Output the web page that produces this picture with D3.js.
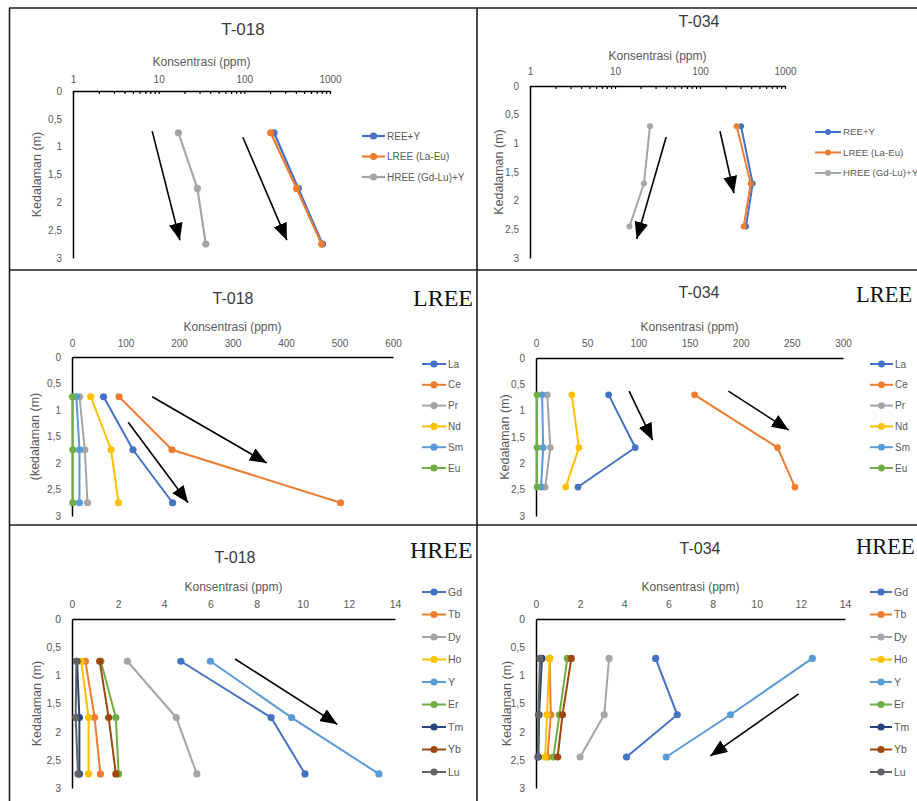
<!DOCTYPE html>
<html>
<head>
<meta charset="utf-8">
<script src="https://cdn.jsdelivr.net/npm/d3@7"></script>
<style>
  body { margin: 0; background: #fff; }
  svg { display: block; font-family: "Liberation Sans", Arial, sans-serif; }
</style>
</head>
<body>
<div id="vis-holder"></div>
<script>
// ---- Data ------------------------------------------------------------

// Sample depths (m)
const depth018 = [0.75, 1.75, 2.75];
const depth034 = [0.7, 1.7, 2.45];

// Tick labels
const depthTicks = [0, 0.5, 1, 1.5, 2, 2.5, 3];
const logTickLabels = [1, 10, 100, 1000];
const lreeTicks018 = [0, 100, 200, 300, 400, 500, 600];
const lreeTicks034 = [0, 50, 100, 150, 200, 250, 300];
const hreeTicks = [0, 2, 4, 6, 8, 10, 12, 14];

// Total groups (ppm)
const sumNames = ["REE+Y", "LREE (La-Eu)", "HREE (Gd-Lu)+Y"];
const ree018  = [222, 426, 819];
const lree018 = [203, 408, 798];
const hree018 = [17, 28.3, 35.5];
const ree034  = [304, 417, 348];
const lree034 = [270, 395, 327];
const hree034 = [25.8, 21.9, 14.8];

// Light REE (ppm)
const lreeNames = ["La", "Ce", "Pr", "Nd", "Sm", "Eu"];
const La018 = [59, 114, 188];
const Ce018 = [88, 187, 502];
const Pr018 = [14, 24, 29];
const Nd018 = [35, 73, 87];
const Sm018 = [8, 14, 14];
const Eu018 = [1, 1.5, 1.5];
const La034 = [71, 97, 41];
const Ce034 = [155, 236, 253];
const Pr034 = [11, 14, 9];
const Nd034 = [35, 42, 29];
const Sm034 = [6, 7, 5];
const Eu034 = [1, 1, 1];

// Heavy REE + Y (ppm)
const hreeNames = ["Gd", "Tb", "Dy", "Ho", "Y", "Er", "Tm", "Yb", "Lu"];
const Gd018 = [4.72, 8.63, 10.1];
const Tb018 = [0.58, 0.98, 1.23];
const Dy018 = [2.4, 4.52, 5.41];
const Ho018 = [0.4, 0.72, 0.72];
const Y018  = [6.0, 9.52, 13.3];
const Er018 = [1.25, 1.9, 2.02];
const Tm018 = [0.22, 0.32, 0.32];
const Yb018 = [1.2, 1.59, 1.9];
const Lu018 = [0.19, 0.16, 0.26];
const Gd034 = [5.42, 6.4, 4.1];
const Tb034 = [0.62, 0.67, 0.52];
const Dy034 = [3.31, 3.09, 2.0];
const Ho034 = [0.61, 0.5, 0.41];
const Y034  = [12.52, 8.81, 5.9];
const Er034 = [1.42, 1.06, 0.79];
const Tm034 = [0.27, 0.14, 0.11];
const Yb034 = [1.6, 1.2, 0.98];
const Lu034 = [0.18, 0.11, 0.08];

// Trend arrows, in data units: [ppm start, depth start, ppm tip, depth tip]
const arrowsSum018  = [[8.4, 0.72, 17.7, 2.68], [96, 0.83, 314, 2.68]];
const arrowsSum034  = [[40, 0.89, 18, 2.67], [172, 0.79, 251, 1.87]];
const arrowsLree018 = [[150, 0.75, 364, 2.0], [105, 1.23, 217, 2.75]];
const arrowsLree034 = [[91, 0.63, 114, 1.56], [188, 0.63, 247, 1.37]];
const arrowsHree018 = [[7.07, 0.71, 11.5, 1.87]];
const arrowsHree034 = [[11.9, 1.33, 7.9, 2.43]];

// Excel default palette
const colors = ["#4472C4", "#ED7D31", "#A5A5A5", "#FFC000", "#5B9BD5",
                "#70AD47", "#264478", "#9E480E", "#636363"];

// ---- Canvas ----------------------------------------------------------
const width = 917, height = 801;
const svg = d3.select("#vis-holder")
              .append("svg")
              .attr("width", width)
              .attr("height", height);

svg.append("rect").attr("width", width).attr("height", height).attr("fill", "#fff");

// Arrow head
svg.append("defs").append("marker")
   .attr("id", "head")
   .attr("viewBox", "0 0 17 14")
   .attr("refX", 17).attr("refY", 7)
   .attr("markerWidth", 17).attr("markerHeight", 14)
   .attr("markerUnits", "userSpaceOnUse")
   .attr("orient", "auto")
   .append("path")
   .attr("d", "M0,0 L17,7 L0,14 Z")
   .attr("fill", "#000");

// Frame lines between the six pictures
const frame = svg.append("g").attr("stroke", "#1e1e1e").attr("stroke-width", 1.6);
frame.append("line").attr("x1", 9).attr("x2", width).attr("y1", 8).attr("y2", 8);
frame.append("line").attr("x1", 9.5).attr("x2", 9.5).attr("y1", 8).attr("y2", height);
frame.append("line").attr("x1", 477).attr("x2", 477).attr("y1", 8).attr("y2", height);
frame.append("line").attr("x1", 9).attr("x2", width).attr("y1", 270).attr("y2", 270);
frame.append("line").attr("x1", 9).attr("x2", width).attr("y1", 525).attr("y2", 525);

// Build series table from named arrays
function makeSeries(names, arrays) {
  return names.map((n, i) => ({ name: n, values: arrays[i], color: colors[i] }));
}

const panels = [
  { title: "T-018", log: true, depth: depth018,
    series: makeSeries(sumNames, [ree018, lree018, hree018]),
    arrows: arrowsSum018,
    x0: 73, x1: 330, y0: 91, y1: 258,
    titleX: 243, titleY: 29, titleSize: 17,
    axisTitleY: 62, tickPad: 8.5, tickSize: 10,
    yLabel: "Kedalaman (m)", yLabelX: 37,
    legX: 362, legW: 23, legY: 136, legStep: 20.5, legSize: 10, r: 3.6, lw: 2.2 },
  { title: "T-034", log: true, depth: depth034,
    series: makeSeries(sumNames, [ree034, lree034, hree034]),
    arrows: arrowsSum034,
    x0: 530, x1: 785, y0: 86, y1: 258,
    titleX: 699, titleY: 21, titleSize: 16,
    axisTitleY: 56, tickPad: 11, tickSize: 10,
    yLabel: "Kedalaman (m)", yLabelX: 499,
    legX: 815, legW: 26, legY: 132, legStep: 20.5, legSize: 9.7, r: 3, lw: 2 },
  { title: "T-018", log: false, depth: depth018, ticks: lreeTicks018, tag: "LREE",
    series: makeSeries(lreeNames, [La018, Ce018, Pr018, Nd018, Sm018, Eu018]),
    arrows: arrowsLree018,
    x0: 72, x1: 393, y0: 357, y1: 516,
    titleX: 233, titleY: 298, titleSize: 16, tagX: 413, tagY: 306, tagSize: 24,
    axisTitleY: 327, tickPad: 10.5, tickSize: 10,
    yLabel: "(kedalaman (m)", yLabelX: 35,
    legX: 422, legW: 24, legY: 364, legStep: 20.8, legSize: 10, r: 3.6, lw: 2 },
  { title: "T-034", log: false, depth: depth034, ticks: lreeTicks034, tag: "LREE",
    series: makeSeries(lreeNames, [La034, Ce034, Pr034, Nd034, Sm034, Eu034]),
    arrows: arrowsLree034,
    x0: 536, x1: 843, y0: 358, y1: 516,
    titleX: 699, titleY: 292, titleSize: 16, tagX: 856, tagY: 302, tagSize: 22.5,
    axisTitleY: 327, tickPad: 11.5, tickSize: 10,
    yLabel: "Kedalaman (m)", yLabelX: 505,
    legX: 870, legW: 23, legY: 364, legStep: 20.8, legSize: 10, r: 3.4, lw: 2 },
  { title: "T-018", log: false, depth: depth018, ticks: hreeTicks, tag: "HREE",
    series: makeSeries(hreeNames, [Gd018, Tb018, Dy018, Ho018, Y018, Er018, Tm018, Yb018, Lu018]),
    arrows: arrowsHree018,
    x0: 72, x1: 395, y0: 619, y1: 788,
    titleX: 235, titleY: 557, titleSize: 16, tagX: 410, tagY: 558, tagSize: 24,
    axisTitleY: 587, tickPad: 11.5, tickSize: 10.5,
    yLabel: "Kedalaman (m)", yLabelX: 37,
    legX: 422, legW: 24, legY: 592, legStep: 22.5, legSize: 10.5, r: 3.6, lw: 2 },
  { title: "T-034", log: false, depth: depth034, ticks: hreeTicks, tag: "HREE",
    series: makeSeries(hreeNames, [Gd034, Tb034, Dy034, Ho034, Y034, Er034, Tm034, Yb034, Lu034]),
    arrows: arrowsHree034,
    x0: 536, x1: 845, y0: 619, y1: 788,
    titleX: 700, titleY: 548, titleSize: 16, tagX: 856, tagY: 554, tagSize: 22.5,
    axisTitleY: 587, tickPad: 11.5, tickSize: 10.5,
    yLabel: "Kedalaman (m)", yLabelX: 507,
    legX: 870, legW: 22, legY: 592, legStep: 22.5, legSize: 10.5, r: 3.6, lw: 2 }
];

const textColor = "#595959";
const commaFmt = (d) => String(d).replace(".", ",");

function drawPanel(p) {
  const g = svg.append("g");

  // Scales
  const x = (p.log ? d3.scaleLog().domain([1, 1000]) : d3.scaleLinear().domain(d3.extent(p.ticks)))
              .range([p.x0, p.x1]);
  const y = d3.scaleLinear().domain([0, 3]).range([p.y0, p.y1]);

  // Chart title
  g.append("text")
   .attr("x", p.titleX).attr("y", p.titleY).attr("dy", "0.35em")
   .attr("text-anchor", "middle")
   .attr("font-size", p.titleSize)
   .attr("fill", "#3b3b3b")
   .text(p.title);

  // Big tag (LREE / HREE)
  if (p.tag) {
    g.append("text")
     .attr("x", p.tagX).attr("y", p.tagY)
     .attr("font-family", "'Liberation Serif', 'DejaVu Serif', serif")
     .attr("font-size", p.tagSize)
     .attr("fill", "#111")
     .text(p.tag);
  }

  // x axis along depth 0
  let xAxis = d3.axisTop(x).tickSizeOuter(0).tickPadding(p.tickPad);
  if (p.log) {
    xAxis.tickValues(x.ticks()).tickSizeInner(-3)
         .tickFormat((d) => logTickLabels.includes(d) ? d : "");
  } else {
    xAxis.tickValues(p.ticks).tickSizeInner(0);
  }
  const gx = g.append("g")
              .attr("transform", `translate(0,${p.y0})`)
              .call(xAxis);
  gx.select(".domain").attr("stroke", "#000").attr("stroke-width", 1.5);
  gx.selectAll(".tick line").attr("stroke", "#000").attr("stroke-width", 1.2);
  gx.selectAll("text").attr("fill", textColor).attr("font-size", p.tickSize)
    .attr("font-family", "'Liberation Sans', Arial, sans-serif");

  // y axis (depth)
  const gy = g.append("g")
              .attr("transform", `translate(${p.x0},0)`)
              .call(d3.axisLeft(y).tickValues(depthTicks).tickSize(0)
                      .tickPadding(11).tickFormat(commaFmt));
  gy.select(".domain").attr("stroke", "#000").attr("stroke-width", 1.5);
  gy.selectAll("text").attr("fill", textColor).attr("font-size", p.tickSize)
    .attr("font-family", "'Liberation Sans', Arial, sans-serif");

  // Axis titles
  g.append("text")
   .attr("x", (p.x0 + p.x1) / 2).attr("y", p.axisTitleY).attr("dy", "0.35em")
   .attr("text-anchor", "middle")
   .attr("font-size", 12).attr("fill", textColor)
   .text("Konsentrasi (ppm)");

  g.append("text")
   .attr("transform", `translate(${p.yLabelX},${(p.y0 + p.y1) / 2}) rotate(-90)`)
   .attr("dy", "0.35em")
   .attr("text-anchor", "middle")
   .attr("font-size", 12.5).attr("fill", textColor)
   .text(p.yLabel);

  // Series: lines then markers, in legend order
  const line = d3.line()
                 .x((d) => x(d.v))
                 .y((d) => y(d.d));

  p.series.forEach((s) => {
    const pts = s.values.map((v, i) => ({ v: v, d: p.depth[i] }));
    g.append("path")
     .datum(pts)
     .attr("d", line)
     .attr("fill", "none")
     .attr("stroke", s.color)
     .attr("stroke-width", p.lw);
    g.selectAll(null)
     .data(pts)
     .enter()
     .append("circle")
     .attr("cx", (d) => x(d.v))
     .attr("cy", (d) => y(d.d))
     .attr("r", p.r)
     .attr("fill", s.color);
  });

  // Trend arrows
  g.selectAll(null)
   .data(p.arrows)
   .enter()
   .append("line")
   .attr("x1", (a) => x(a[0])).attr("y1", (a) => y(a[1]))
   .attr("x2", (a) => x(a[2])).attr("y2", (a) => y(a[3]))
   .attr("stroke", "#000")
   .attr("stroke-width", 1.6)
   .attr("marker-end", "url(#head)");

  // Legend
  const leg = g.selectAll(".leg")
               .data(p.series)
               .enter()
               .append("g")
               .attr("class", "leg")
               .attr("transform", (d, i) => `translate(${p.legX},${p.legY + i * p.legStep})`);
  leg.append("line")
     .attr("x1", 0).attr("x2", p.legW)
     .attr("stroke", (d) => d.color)
     .attr("stroke-width", p.lw);
  leg.append("circle")
     .attr("cx", p.legW / 2)
     .attr("r", p.r)
     .attr("fill", (d) => d.color);
  leg.append("text")
     .attr("x", p.legW + 2)
     .attr("dy", "0.35em")
     .attr("font-size", p.legSize)
     .attr("fill", textColor)
     .text((d) => d.name);
}

panels.forEach(drawPanel);
</script>
</body>
</html>
